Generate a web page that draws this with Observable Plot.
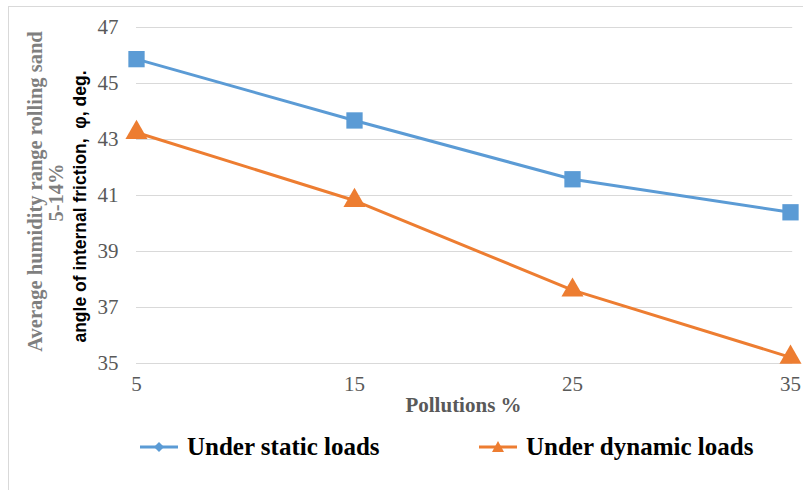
<!DOCTYPE html>
<html>
<head>
<meta charset="utf-8">
<script src="https://cdn.jsdelivr.net/npm/d3@7"></script>
<script src="https://cdn.jsdelivr.net/npm/@observablehq/plot@0.6"></script>
<style>
  body { margin: 0; background: #fff; }
  #wrap { position: relative; width: 803px; height: 490px; overflow: hidden; }
  #frame { position: absolute; left: 8px; top: 6px; width: 800px; height: 490px; border-left: 1px solid #d9d9d9; border-top: 1px solid #d9d9d9; box-sizing: border-box; pointer-events: none; }
  #legend { position: absolute; left: 0; top: 432px; width: 803px; height: 30px; font-family: "Liberation Serif", "Times New Roman", serif; font-weight: bold; font-size: 25px; color: #000; }
  .item { position: absolute; top: 0; display: flex; align-items: center; height: 30px; }
  .item svg { margin-right: 9px; }
</style>
</head>
<body>
<div id="wrap">
  <div id="chart"></div>
  <div id="legend"></div>
  <div id="frame"></div>
</div>
<script>
const pollution = [5, 15, 25, 35];
const staticLoads = [45.87, 43.68, 41.58, 40.4];
const dynamicLoads = [43.25, 40.82, 37.62, 35.22];
const seriesNames = ["Under static loads", "Under dynamic loads"];
const seriesColors = ["#5B9BD5", "#ED7D31"];
const yTicks = [35, 37, 39, 41, 43, 45, 47];
const xTicks = [5, 15, 25, 35];

const data = [
  ...pollution.map((p, i) => ({x: p, y: staticLoads[i], s: seriesNames[0]})),
  ...pollution.map((p, i) => ({x: p, y: dynamicLoads[i], s: seriesNames[1]}))
];
const color = {domain: seriesNames, range: seriesColors};
const serif = "Liberation Serif, Times New Roman, serif";

const chart = Plot.plot({
  width: 803,
  height: 420,
  marginLeft: 136,
  marginRight: 13,
  marginTop: 27,
  marginBottom: 57,
  style: {fontFamily: serif, background: "transparent", overflow: "visible"},
  x: {domain: [5, 35], ticks: xTicks, label: null},
  y: {domain: [35, 47], ticks: yTicks, label: null},
  color,
  marks: [
    Plot.gridY(yTicks, {stroke: "#d9d9d9", strokeOpacity: 1, strokeWidth: 1.2, x1: 5, x2: 35.1}),
    Plot.axisY({ticks: yTicks, tickSize: 0, tickPadding: 18, fontSize: 21, fill: "#595959"}),
    Plot.axisX({ticks: xTicks, tickSize: 0, tickPadding: 13, fontSize: 21, fill: "#595959"}),
    Plot.line(data, {x: "x", y: "y", stroke: "s", z: "s", strokeWidth: 3}),
    Plot.dot(data.filter(d => d.s === seriesNames[0]), {x: "x", y: "y", symbol: "square", r: 9.2, fill: "s", stroke: "none"}),
    Plot.dot(data.filter(d => d.s === seriesNames[1]), {x: "x", y: "y", symbol: "triangle", r: 8.2, fill: "s", stroke: "none"}),
    Plot.text(["Pollutions %"], {frameAnchor: "bottom", dy: 48, fontSize: 21, fontWeight: "bold", fill: "#595959"}),
    Plot.text(["Average humidity range rolling sand"], {frameAnchor: "left", textAnchor: "middle", dx: -101, dy: -4, rotate: -90, fontSize: 20.5, fontWeight: "bold", fill: "#7f7f7f"}),
    Plot.text(["5-14%"], {frameAnchor: "left", textAnchor: "middle", dx: -80, dy: -3, rotate: -90, fontSize: 20.5, fontWeight: "bold", fill: "#7f7f7f"}),
    Plot.text(["angle of internal friction,  φ, deg."], {frameAnchor: "left", textAnchor: "middle", dx: -56, dy: 11, rotate: -90, fontSize: 17.5, fontWeight: "bold", fill: "#000", fontFamily: "Liberation Sans Narrow, Liberation Sans, Arial, sans-serif"})
  ]
});
document.getElementById("chart").appendChild(chart);

// Legend
const legend = document.getElementById("legend");
const lefts = [140, 479];
seriesNames.forEach((name, i) => {
  const item = document.createElement("div");
  item.className = "item";
  item.style.left = lefts[i] + "px";
  const marker = i === 0
    ? `<path d="M19 3 L24 8 L19 13 L14 8 Z" fill="${seriesColors[i]}"/>`
    : `<path d="M19 2 L25 13 L13 13 Z" fill="${seriesColors[i]}"/>`;
  item.innerHTML = `<svg width="38" height="16" viewBox="0 0 38 16"><line x1="0" y1="8" x2="38" y2="8" stroke="${seriesColors[i]}" stroke-width="3"/>${marker}</svg><span>${name}</span>`;
  legend.appendChild(item);
});
</script>
</body>
</html>
